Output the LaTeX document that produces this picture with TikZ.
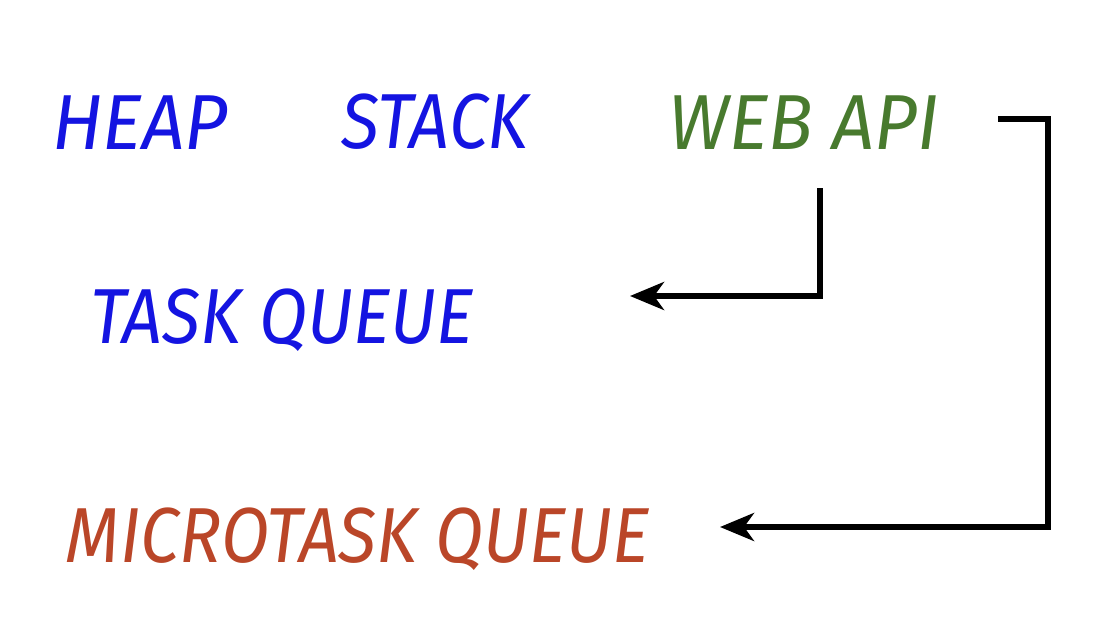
\documentclass[tikz,border=0pt]{standalone}
\usepackage{fontspec}
\setmainfont{Fira Sans}
\usetikzlibrary{arrows.meta}
\definecolor{qblue}{RGB}{20,20,225}
\definecolor{qgreen}{RGB}{72,122,46}
\definecolor{qred}{RGB}{186,70,40}
\begin{document}
\begin{tikzpicture}[x=1pt,y=-1pt,
  lbl/.style={font=\fontsize{78}{80}\selectfont\itshape, inner sep=0pt, anchor=center, text height=55pt, text depth=0pt},
  conn/.style={line width=5.5pt, -{Stealth[length=34pt,width=28pt,inset=10pt]}}]
\useasboundingbox[fill=white] (0,0) rectangle (1108,640);
\node[lbl,qblue,xscale=0.96] (heap) at (140,122) {HEAP};
\node[lbl,qblue,xscale=0.9] (stack) at (435,121) {STACK};
\node[lbl,qgreen,xscale=0.95] (webapi) at (804,122) {WEB API};
\node[lbl,qblue,xscale=0.9] (taskq) at (282,316) {TASK QUEUE};
\node[lbl,qred,xscale=0.9] (microq) at (358,535) {MICROTASK QUEUE};
\coordinate (w1) at (820,188);
\coordinate (t1) at (630,296);
\coordinate (w2) at (998,119);
\coordinate (c2) at (1048,119);
\coordinate (m1) at (720,527);
\draw[conn] (w1) |- (t1);
\draw[conn] (w2) -- (c2) |- (m1);
\end{tikzpicture}
\end{document}
